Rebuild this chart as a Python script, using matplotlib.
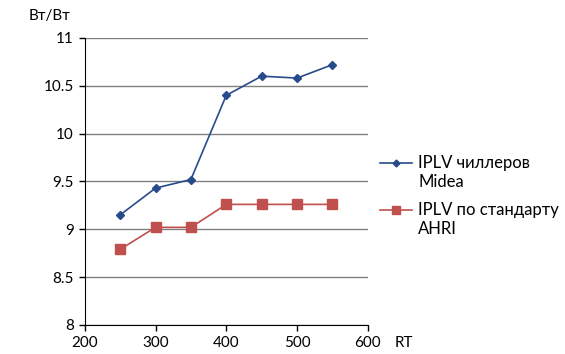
import matplotlib

matplotlib.use("Agg")
import matplotlib.pyplot as plt
from matplotlib.lines import Line2D

plt.rcParams["font.family"] = ["Lato", "DejaVu Sans"]

rt = [250, 300, 350, 400, 450, 500, 550]
iplv_midea = [9.15, 9.43, 9.52, 10.40, 10.60, 10.58, 10.72]
iplv_ahri = [8.79, 9.02, 9.02, 9.26, 9.26, 9.26, 9.26]
legend_lines = [("IPLV чиллеров", "Midea"), ("IPLV по стандарту", "AHRI")]

BLUE = "#284b8c"
RED = "#c0504d"

W, H = 565, 354
fig = plt.figure(figsize=(W / 100, H / 100), dpi=100)
ax = fig.add_axes([0.150, 0.082, 0.501, 0.811])

ax.plot(rt, iplv_midea, color=BLUE, lw=1.2, marker="D", ms=4)
ax.plot(rt, iplv_ahri, color=RED, lw=1.2, marker="s", ms=6.5)

ax.set_xlim(200, 600)
ax.set_ylim(8, 11)
ax.set_xticks([200, 300, 400, 500, 600])
ax.set_yticks([8, 8.5, 9, 9.5, 10, 10.5, 11])
ax.set_yticklabels(["8", "8.5", "9", "9.5", "10", "10.5", "11"])
ax.yaxis.grid(True, color="#808080", lw=1)
ax.set_axisbelow(True)
for s in ("top", "right"):
    ax.spines[s].set_visible(False)
ax.tick_params(labelsize=11, length=4, width=1, direction="out", colors="black", pad=4)

fig.text(0.05, 0.955, "Вт/Вт", fontsize=11, va="center")
fig.text(0.698, 0.03, "RT", fontsize=11, va="center")

# legend drawn by hand so the marker sits on the first text line
styles = [(BLUE, "D", 3.5), (RED, "s", 5.5)]
for (first, second), (col, mk, ms), ypx in zip(legend_lines, styles, [163, 210]):
    yf = 1 - ypx / H
    fig.add_artist(Line2D([380 / W, 412 / W], [yf, yf], color=col, lw=1.2,
                          transform=fig.transFigure))
    fig.add_artist(Line2D([396 / W], [yf], color=col, marker=mk, ms=ms,
                          transform=fig.transFigure))
    fig.text(418 / W, yf, first, fontsize=12, va="center")
    fig.text(418 / W, yf - 19 / H, second, fontsize=12, va="center")

fig.savefig("out.png", dpi=100)
